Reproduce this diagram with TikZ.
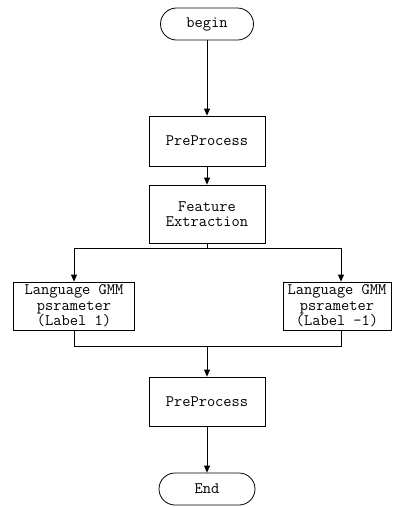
\documentclass[tikz,border=0pt]{standalone}
\usetikzlibrary{arrows.meta}
\begin{document}
\begin{tikzpicture}[x=1pt,y=-1pt,
  every node/.style={font=\ttfamily\fontsize{16}{15.5}\selectfont, align=center, inner sep=0pt},
  procbox/.style={draw, line width=0.8pt, minimum width=116pt},
  termbox/.style={draw, line width=0.8pt, rounded corners=16pt, minimum height=32pt},
  conn/.style={line width=0.8pt},
  arr/.style={conn, -{Triangle[length=7pt,width=6pt]}}]
\useasboundingbox (0,0) rectangle (393,507);
\node[termbox, minimum width=93pt] (begin) at (207,24) {begin};
\node[procbox, minimum height=50pt] (pp1) at (207,141) {PreProcess};
\node[procbox, minimum height=58pt] (fe) at (207,214) {Feature\\Extraction};
\node[procbox, minimum width=121pt, minimum height=48pt] (lang1) at (74,306) {Language GMM\\psrameter\\(Label 1)};
\node[procbox, minimum width=108pt, minimum height=48pt] (lang2) at (337,306) {Language GMM\\psrameter\\(Label -1)};
\node[procbox, minimum height=49pt] (pp2) at (207,401.5) {PreProcess};
\node[termbox, minimum width=96pt] (end) at (207,489) {End};
\coordinate (split) at (207,248);
\coordinate (join) at (207,346);
\draw[arr] (begin) -- (pp1);
\draw[arr] (pp1) -- (fe);
\draw[conn] (fe) -- (split);
\draw[arr] (split) -| (lang1.north);
\draw[arr] (split) -| ([xshift=4pt]lang2.north);
\draw[conn] (lang1.south) |- (join);
\draw[conn] ([xshift=4pt]lang2.south) |- (join);
\draw[arr] (join) -- (pp2);
\draw[arr] (pp2) -- (end);
\end{tikzpicture}
\end{document}
